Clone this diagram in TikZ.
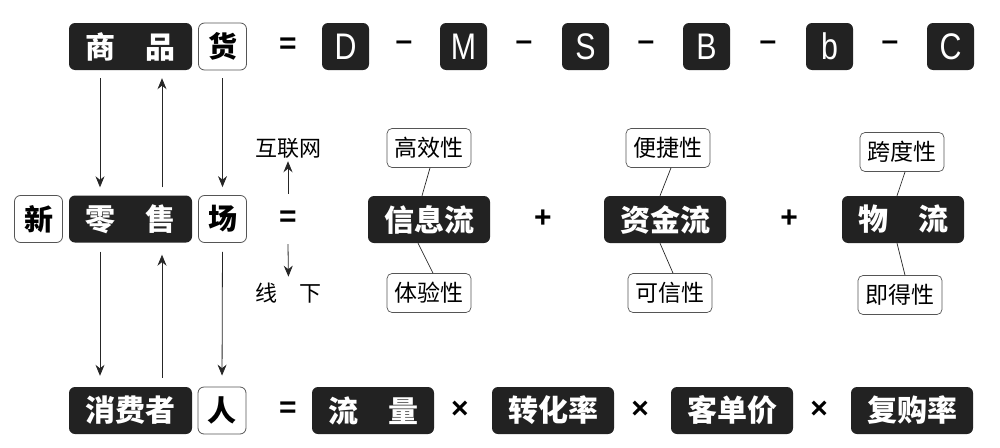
\documentclass[tikz,border=0pt]{standalone}
\usepackage{fontspec}
\setmainfont{Noto Sans CJK SC}
\newfontfamily\latinsf{Liberation Sans}
\usetikzlibrary{arrows.meta}
\definecolor{boxblack}{HTML}{222222}
\definecolor{rimgray}{HTML}{555555}

\begin{document}
\begin{tikzpicture}[x=1pt,y=-1pt,
  blkbox/.style={fill=boxblack, text=white, rounded corners=6pt, minimum width=122pt, minimum height=47pt, inner sep=0pt, font=\fontsize{30}{30}\selectfont\bfseries},
  whtbox/.style={draw=rimgray, line width=0.8pt, rounded corners=6pt, minimum width=48pt, minimum height=47pt, inner sep=0pt, font=\fontsize{29}{29}\selectfont\bfseries},
  letbox/.style={blkbox, minimum width=47pt, font=\latinsf\fontsize{37}{37}\selectfont},
  tagbox/.style={draw=rimgray, line width=0.7pt, rounded corners=5pt, minimum width=84pt, minimum height=39pt, inner sep=0pt, font=\fontsize{23}{23}\selectfont},
  sym/.style={font=\latinsf\bfseries\fontsize{30}{30}\selectfont, inner sep=0pt},
  arr/.style={draw=black!85, line width=0.8pt, -{Stealth[length=11pt,width=9pt]}},
  link/.style={draw=black!85, line width=0.7pt}]

\useasboundingbox (0,0) rectangle (1000,447);

% top row
\node[blkbox, minimum width=123pt] (shangpin) at (130.5,46.5) {商\hspace{1em}品};
\node[whtbox] (huo) at (222.5,46.5) {货};
\node[sym] (eqtop) at (288,46) {=};
\node[letbox] (lD) at (345.5,46.5) {\scalebox{0.82}[1]{D}};
\node[sym] at (404,46) {–};
\node[letbox] (lM) at (463.5,46.5) {\scalebox{0.82}[1]{M}};
\node[sym] at (524,46) {–};
\node[letbox] (lS) at (585.5,46.5) {\scalebox{0.82}[1]{S}};
\node[sym] at (646,46) {–};
\node[letbox] (lB) at (706.5,46.5) {\scalebox{0.82}[1]{B}};
\node[sym] at (768,46) {–};
\node[letbox] (lb) at (829.5,46.5) {\scalebox{0.82}[1]{b}};
\node[sym] at (890,46) {–};
\node[letbox] (lC) at (950.5,46.5) {\scalebox{0.82}[1]{C}};

% middle row
\node[whtbox] (xin) at (38.5,219) {新};
\node[blkbox, minimum width=123pt] (lingshou) at (130.5,219) {零\hspace{1em}售};
\node[whtbox] (chang) at (222.5,219) {场};
\node[sym, minimum height=50pt] (eqmid) at (288,219) {=};
\node[font=\fontsize{22}{22}\selectfont, inner sep=0pt] (hlw) at (288,148) {互联网};
\node[font=\fontsize{22}{22}\selectfont, inner sep=0pt] (xx) at (288.5,293) {线\hspace{1em}下};
\draw[arr, shorten >=3pt] (eqmid.north) -- (hlw.south);
\draw[arr, shorten >=6pt] (eqmid.south) -- (xx.north);

\node[blkbox] (xinxi) at (429,219.5) {信息流};
\node[sym] at (543,219) {+};
\node[blkbox] (zijin) at (665,219.5) {资金流};
\node[sym] at (789,219) {+};
\node[blkbox] (wuliu) at (903,219.5) {物\hspace{1em}流};

\node[tagbox] (gaoxiao) at (429,148) {高效性};
\node[tagbox] (tiyan) at (429,293) {体验性};
\node[tagbox] (bianjie) at (668,148) {便捷性};
\node[tagbox] (kexin) at (670,293) {可信性};
\node[tagbox] (kuadu) at (902,152) {跨度性};
\node[tagbox] (jide) at (900,295) {即得性};

\draw[link] ([xshift=1pt]gaoxiao.south) -- ([xshift=-7pt]xinxi.north);
\draw[link] ([xshift=-11pt]xinxi.south) -- ([xshift=4pt]tiyan.north);
\draw[link] ([xshift=3pt]bianjie.south) -- ([xshift=-5pt]zijin.north);
\draw[link] ([xshift=-5pt]zijin.south) -- ([xshift=3pt]kexin.north);
\draw[link] ([xshift=3pt]kuadu.south) -- ([xshift=-6pt]wuliu.north);
\draw[link] ([xshift=-6pt]wuliu.south) -- ([xshift=5pt]jide.north);

% bottom row
\node[blkbox, minimum width=123pt] (xfz) at (130.5,410.5) {消费者};
\node[whtbox] (ren) at (222,410.5) {人};
\node[sym] (eqbot) at (288,410) {=};
\node[blkbox] (liuliang) at (373,410.5) {流\hspace{1em}量};
\node[sym] at (460,410) {×};
\node[blkbox] (zhuanhua) at (553,410.5) {转化率};
\node[sym] at (640,410) {×};
\node[blkbox] (kedan) at (732,410.5) {客单价};
\node[sym] at (819,410) {×};
\node[blkbox] (fugou) at (912,410.5) {复购率};

% vertical arrows
\draw[arr, shorten <=8pt, shorten >=8pt] ([xshift=-30.5pt]shangpin.south) -- ([xshift=-30.5pt]lingshou.north);
\draw[arr, shorten <=8pt, shorten >=8pt] ([xshift=31.5pt]lingshou.north) -- ([xshift=31.5pt]shangpin.south);
\draw[arr, shorten <=8pt, shorten >=8pt] (huo.south) -- (chang.north);
\draw[arr, shorten <=9pt, shorten >=11pt] ([xshift=-30.5pt]lingshou.south) -- ([xshift=-30.5pt]xfz.north);
\draw[arr, shorten <=9pt, shorten >=12pt] ([xshift=31.5pt]xfz.north) -- ([xshift=31.5pt]lingshou.south);
\draw[arr, shorten <=9pt, shorten >=11pt] (chang.south) -- (ren.north);

\end{tikzpicture}
\end{document}
